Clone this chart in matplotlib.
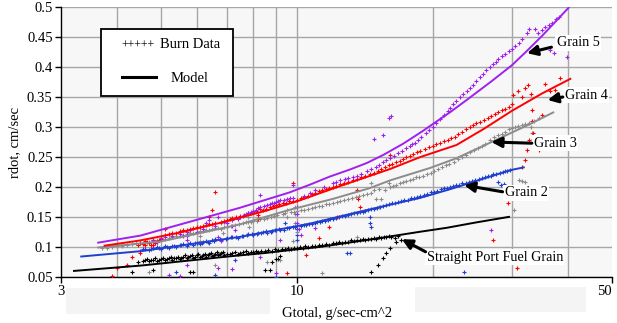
import matplotlib
matplotlib.use("Agg")
import matplotlib.pyplot as plt
from matplotlib.patches import Rectangle
from matplotlib.lines import Line2D
from matplotlib.ticker import FixedLocator, NullFormatter, FixedFormatter

plt.rcParams['font.family'] = ['Liberation Serif', 'DejaVu Serif']

# ---------------- model curves ----------------
g1_model_G = [3.19, 4.5, 5.7, 7.0, 8.5, 9.7, 11.2, 15.0, 18.8, 21.5, 25.0, 29.7]
g1_model_r = [0.060, 0.069, 0.077, 0.084, 0.090, 0.095, 0.100, 0.114, 0.1255, 0.132, 0.141, 0.1505]

g2_model_G = [3.31, 4.5, 5.6, 7.5, 10.7, 14.0, 18.8, 21.8, 25.0, 29.7, 32.0]
g2_model_r = [0.084, 0.093, 0.103, 0.117, 0.139, 0.160, 0.182, 0.196, 0.210, 0.228, 0.233]

g3_model_G = [3.61, 4.98, 6.0, 7.5, 9.64, 12.0, 14.5, 16.1, 19.8, 22.6, 27.4, 32.7, 37.2]
g3_model_r = [0.099, 0.109, 0.122, 0.138, 0.162, 0.180, 0.198, 0.211, 0.232, 0.248, 0.277, 0.304, 0.325]

g4_model_G = [3.73, 4.5, 5.5, 7.0, 8.5, 10.0, 12.3, 16.1, 18.8, 22.6, 26.0, 30.0, 35.0, 40.6]
g4_model_r = [0.102, 0.111, 0.124, 0.143, 0.160, 0.176, 0.200, 0.230, 0.250, 0.270, 0.297, 0.327, 0.356, 0.381]

g5_model_G = [3.61, 4.5, 5.6, 7.45, 9.64, 10.7, 11.8, 13.1, 14.3, 15.6, 17.2, 19.0, 22.0, 24.0, 27.0, 30.0, 32.4, 35.0, 40.2]
g5_model_r = [0.107, 0.119, 0.139, 0.165, 0.191, 0.204, 0.217, 0.229, 0.240, 0.254, 0.272, 0.293, 0.326, 0.347, 0.376, 0.403, 0.427, 0.452, 0.500]

# ---------------- burn data: scattered / hook points ----------------
g1_data_G = [4.45, 4.6, 4.7, 4.8, 4.9, 5.0, 5.1, 5.2, 5.3, 5.4, 5.5, 5.6, 5.7, 5.8, 5.9, 6.0, 6.1, 6.2, 6.3,
             6.4, 6.5, 6.6, 6.7, 6.8, 6.9, 7.0, 7.2, 7.4, 7.6, 7.8, 8.0, 8.2, 8.5, 8.8, 8.8, 9.0, 9.2, 9.1,
             9.4, 9.7, 10.0, 10.3, 10.6, 11.0, 11.4, 11.8, 12.2, 12.6, 13.0, 13.4, 13.8, 14.2, 14.6, 15.0,
             15.4, 15.8, 16.2, 16.5, 16.8, 17.0, 16.6, 16.1, 15.8, 15.5, 15.1, 14.6,
             4.3, 4.8, 5.8, 5.9, 8.5, 8.7, 9.1]
g1_data_r = [0.075, 0.078, 0.076, 0.079, 0.077, 0.080, 0.078, 0.081, 0.079, 0.082, 0.080, 0.083, 0.081, 0.085,
             0.082, 0.086, 0.083, 0.087, 0.084, 0.088, 0.085, 0.089, 0.086, 0.090, 0.087, 0.088, 0.090, 0.089,
             0.091, 0.090, 0.092, 0.091, 0.093, 0.094, 0.075, 0.080, 0.085, 0.095, 0.096, 0.097, 0.098, 0.099,
             0.100, 0.101, 0.103, 0.104, 0.106, 0.107, 0.108, 0.110, 0.111, 0.112, 0.113, 0.114, 0.115, 0.116,
             0.117, 0.115, 0.118, 0.112, 0.108, 0.098, 0.0895, 0.081, 0.070, 0.059,
             0.058, 0.062, 0.058, 0.059, 0.062, 0.062, 0.080]

g2_data_G = [4.5, 4.6, 4.7, 4.8, 4.9, 5.0, 5.1, 5.2, 5.3, 5.4, 5.4, 5.5, 5.6, 5.7, 5.8, 5.9, 6.0, 6.1, 6.2,
             6.3, 6.4, 6.5, 6.6, 6.6, 6.8, 7.0, 7.3, 7.2, 7.4, 7.6, 7.8, 8.0, 8.2, 8.4, 8.6, 8.8, 9.0, 9.0,
             9.2, 9.4, 9.5, 9.8, 10.0, 10.0, 10.0, 10.2, 10.5, 10.8, 11.1, 11.4, 11.7, 12.0, 12.4, 12.9, 13.1,
             12.8, 13.2, 13.6, 14.0, 14.4, 14.5, 14.5, 14.6, 14.8, 15.3, 15.8, 16.3, 16.8, 17.3, 17.9, 18.5,
             19.1, 19.8, 20.5, 21.2, 21.9, 22.6, 23.3, 23.5, 24.1, 24.9, 25.7, 26.5, 27.3, 27.9, 28.2, 28.4,
             28.8, 29.0, 29.7]
g2_data_r = [0.094, 0.097, 0.095, 0.098, 0.100, 0.097, 0.101, 0.099, 0.102, 0.058, 0.100, 0.103, 0.105, 0.102,
             0.106, 0.104, 0.107, 0.105, 0.108, 0.110, 0.107, 0.111, 0.053, 0.113, 0.112, 0.115, 0.078, 0.117,
             0.115, 0.119, 0.121, 0.120, 0.123, 0.125, 0.124, 0.127, 0.050, 0.129, 0.128, 0.140, 0.131, 0.133,
             0.112, 0.120, 0.130, 0.135, 0.137, 0.139, 0.141, 0.143, 0.145, 0.147, 0.150, 0.090, 0.090, 0.152,
             0.155, 0.157, 0.159, 0.162, 0.150, 0.140, 0.133, 0.164, 0.167, 0.170, 0.173, 0.175, 0.178, 0.181,
             0.184, 0.187, 0.191, 0.194, 0.198, 0.200, 0.203, 0.206, 0.059, 0.209, 0.212, 0.215, 0.218, 0.221,
             0.209, 0.224, 0.203, 0.205, 0.226, 0.228]

g3_data_G = [3.7, 3.9, 4.1, 4.3, 4.5, 4.7, 4.7, 4.9, 5.1, 5.3, 5.5, 5.7, 5.9, 6.1, 6.1, 6.1, 6.3, 6.5, 6.6,
             6.7, 6.8, 6.8, 6.85, 7.0, 7.3, 7.6, 7.8, 7.8, 7.85, 8.0, 8.3, 8.6, 8.6, 8.9, 9.2, 9.3, 9.5, 9.5,
             9.6, 9.7, 9.8, 9.9, 9.9, 9.9, 10.0, 10.0, 10.4, 10.8, 11.2, 11.4, 11.6, 12.0, 12.5, 13.0, 13.5,
             13.6, 14.0, 14.6, 14.8, 15.0, 15.2, 15.4, 15.7, 16.0, 14.6, 15.2, 16.1, 16.6, 17.2, 17.8, 18.4,
             19.0, 19.8, 20.6, 21.4, 22.3, 23.3, 24.2, 25.2, 26.2, 27.4, 28.5, 29.5, 30.5, 31.5, 32.7, 33.5,
             34.5, 30.3, 31.1, 31.5, 32.0]
g3_data_r = [0.098, 0.100, 0.102, 0.105, 0.107, 0.058, 0.109, 0.112, 0.114, 0.117, 0.119, 0.121, 0.124, 0.126,
             0.118, 0.110, 0.128, 0.130, 0.070, 0.132, 0.140, 0.130, 0.123, 0.134, 0.137, 0.140, 0.150, 0.142,
             0.134, 0.143, 0.146, 0.075, 0.149, 0.152, 0.078, 0.155, 0.162, 0.150, 0.095, 0.158, 0.110, 0.167,
             0.155, 0.140, 0.125, 0.160, 0.162, 0.165, 0.168, 0.057, 0.171, 0.174, 0.177, 0.180, 0.184, 0.117,
             0.187, 0.207, 0.195, 0.180, 0.167, 0.180, 0.195, 0.207, 0.190, 0.197, 0.200, 0.204, 0.208, 0.212,
             0.216, 0.219, 0.223, 0.230, 0.236, 0.242, 0.250, 0.258, 0.265, 0.272, 0.284, 0.288, 0.296, 0.300,
             0.304, 0.306, 0.310, 0.315, 0.162, 0.212, 0.210, 0.208]

g4_data_G = [3.9, 4.0, 4.2, 4.3, 4.5, 4.45, 4.5, 4.6, 4.6, 4.7, 4.8, 4.8, 4.9, 5.0, 5.1, 5.1, 5.3, 5.5, 5.7,
             5.9, 6.1, 6.3, 6.4, 6.5, 6.6, 6.5, 6.8, 7.0, 7.2, 7.5, 7.8, 8.0, 8.2, 8.2, 8.4, 8.7, 9.0, 9.3,
             9.5, 9.6, 9.8, 10.0, 10.4, 10.5, 10.8, 11.2, 11.2, 11.8, 11.6, 12.0, 12.3, 12.5, 13.0, 13.6,
             13.7, 13.8, 13.6, 14.2, 14.8, 15.4, 16.0, 16.1, 16.6, 17.2, 17.8, 18.5, 19.2, 20.0, 20.8, 21.6,
             22.4, 23.3, 24.2, 25.0, 26.0, 27.0, 28.0, 29.0, 30.0, 30.2, 31.0, 31.6, 32.0, 32.5, 33.0, 33.3,
             33.3, 33.4, 32.8, 32.4, 32.1, 31.6, 34.5, 35.0, 35.5, 36.5, 37.3, 38.3, 29.4, 27.3, 30.8]
g4_data_r = [0.052, 0.065, 0.070, 0.083, 0.090, 0.104, 0.107, 0.103, 0.110, 0.106, 0.112, 0.104, 0.109, 0.113,
             0.120, 0.130, 0.123, 0.126, 0.129, 0.132, 0.134, 0.137, 0.150, 0.162, 0.192, 0.139, 0.142, 0.145,
             0.149, 0.152, 0.156, 0.159, 0.154, 0.147, 0.162, 0.166, 0.170, 0.173, 0.057, 0.176, 0.207, 0.179,
             0.183, 0.087, 0.188, 0.115, 0.193, 0.134, 0.197, 0.200, 0.150, 0.205, 0.209, 0.195, 0.180, 0.167,
             0.214, 0.219, 0.224, 0.230, 0.236, 0.254, 0.241, 0.247, 0.252, 0.258, 0.263, 0.268, 0.274, 0.279,
             0.284, 0.292, 0.300, 0.306, 0.312, 0.318, 0.325, 0.330, 0.338, 0.353, 0.360, 0.350, 0.365, 0.370,
             0.355, 0.328, 0.310, 0.290, 0.278, 0.262, 0.245, 0.233, 0.262, 0.320, 0.372, 0.360, 0.362, 0.382,
             0.173, 0.112, 0.065]

g5_data_G = [4.8, 4.9, 5.0, 5.3, 5.5, 5.7, 5.7, 5.7, 5.8, 6.0, 6.2, 6.4, 6.6, 6.7, 6.7, 6.8, 7.0, 7.2, 7.2,
             7.3, 7.5, 7.7, 7.9, 8.1, 8.3, 8.3, 8.6, 8.8, 9.0, 9.2, 9.5, 9.8, 10.0, 10.0, 10.0, 10.1, 10.2,
             10.4, 10.7, 11.0, 11.5, 12.0, 12.5, 13.0, 13.6, 14.3, 15.0, 15.5, 16.1, 16.8, 17.5, 18.0, 18.6,
             19.3, 20.0, 20.8, 21.6, 22.2, 23.0, 23.8, 24.6, 25.5, 26.3, 27.2, 28.0, 29.0, 30.0, 31.1, 32.4,
             32.8, 33.7, 34.3, 34.9, 35.5, 36.2, 36.8, 37.5, 38.2, 36.5, 37.2, 39.7,
             5.2, 5.5, 5.7, 7.2, 9.0, 9.2, 9.8, 8.3, 6.7, 11.0, 26.9, 14.8, 15.5, 16.0, 16.2]
g5_data_r = [0.112, 0.109, 0.115, 0.118, 0.121, 0.112, 0.118, 0.125, 0.128, 0.125, 0.130, 0.145, 0.135, 0.150,
             0.117, 0.110, 0.140, 0.145, 0.135, 0.128, 0.150, 0.155, 0.158, 0.162, 0.167, 0.187, 0.170, 0.173,
             0.175, 0.178, 0.180, 0.182, 0.167, 0.155, 0.140, 0.130, 0.120, 0.185, 0.190, 0.195, 0.200, 0.207,
             0.211, 0.215, 0.218, 0.226, 0.234, 0.241, 0.248, 0.256, 0.265, 0.271, 0.278, 0.290, 0.300, 0.313,
             0.326, 0.338, 0.350, 0.360, 0.370, 0.383, 0.395, 0.405, 0.413, 0.422, 0.430, 0.440, 0.456, 0.464,
             0.464, 0.457, 0.462, 0.467, 0.470, 0.473, 0.480, 0.484, 0.428, 0.423, 0.417,
             0.053, 0.052, 0.070, 0.063, 0.056, 0.112, 0.203, 0.084, 0.065, 0.132, 0.129, 0.280, 0.287, 0.315,
             0.318]

# ---------------- burn data: dense band readings ----------------
g1_band_G = [4.55, 4.65, 4.75, 4.85, 4.95, 5.05, 5.15, 5.25, 5.35, 5.45, 5.55, 5.65, 5.75, 5.85, 5.95, 6.05,
             6.15, 6.25, 6.35, 6.45, 6.55, 6.65, 6.75, 6.85, 7.1, 7.3, 7.5, 7.7, 7.9, 8.1, 8.35, 8.65, 8.95,
             9.25, 9.55, 9.85, 10.15, 10.45, 10.8, 11.2, 11.6, 12.0, 12.4, 12.8, 13.2, 13.6, 14.0, 14.4, 14.8,
             15.2, 15.6, 16.0]
g1_band_r = [0.077, 0.080, 0.078, 0.081, 0.079, 0.082, 0.080, 0.083, 0.081, 0.084, 0.082, 0.086, 0.083, 0.087,
             0.084, 0.088, 0.085, 0.089, 0.086, 0.090, 0.087, 0.091, 0.088, 0.092, 0.089, 0.092, 0.090, 0.093,
             0.092, 0.094, 0.093, 0.095, 0.096, 0.097, 0.098, 0.099, 0.100, 0.101, 0.102, 0.103, 0.105, 0.106,
             0.108, 0.109, 0.111, 0.112, 0.113, 0.114, 0.115, 0.116, 0.117, 0.118]

g2_band_G = [4.55, 4.75, 4.95, 5.15, 5.35, 5.55, 5.75, 5.95, 6.15, 6.35, 6.55, 6.75, 6.95, 7.15, 7.35, 7.55,
             7.75, 7.95, 8.15, 8.35, 8.55, 8.75, 8.95, 9.15, 9.35, 9.6, 9.9, 10.35, 10.65, 10.95, 11.25, 11.55,
             11.85, 12.2, 12.6, 13.0, 13.4, 13.8, 14.2, 14.6, 15.05, 15.55, 16.05, 16.55, 17.05, 17.6, 18.2,
             18.8, 19.45, 20.15, 20.85, 21.55, 22.25, 22.95, 23.7, 24.5, 25.3, 26.1, 26.9, 27.7, 28.6, 29.3]
g2_band_r = [0.096, 0.097, 0.099, 0.100, 0.101, 0.104, 0.105, 0.106, 0.107, 0.109, 0.110, 0.114, 0.113, 0.116,
             0.117, 0.118, 0.120, 0.122, 0.121, 0.124, 0.126, 0.125, 0.128, 0.130, 0.129, 0.132, 0.134, 0.136,
             0.138, 0.140, 0.142, 0.144, 0.146, 0.148, 0.151, 0.153, 0.156, 0.158, 0.160, 0.163, 0.165, 0.168,
             0.171, 0.174, 0.176, 0.179, 0.182, 0.185, 0.189, 0.192, 0.196, 0.199, 0.201, 0.204, 0.207, 0.210,
             0.213, 0.216, 0.219, 0.222, 0.225, 0.227]

g3_band_G = [3.8, 4.0, 4.2, 4.4, 4.6, 4.8, 5.0, 5.2, 5.4, 5.6, 5.8, 6.0, 6.2, 6.4, 6.6, 6.9, 7.15, 7.45, 7.7,
             7.9, 8.15, 8.45, 8.75, 9.05, 9.4, 9.85, 10.2, 10.6, 11.0, 11.4, 11.8, 12.25, 12.75, 13.25, 13.75,
             14.3, 16.35, 16.9, 17.5, 18.1, 18.7, 19.4, 20.2, 21.0, 21.8, 22.8, 23.7, 24.7, 25.7, 26.8, 27.9,
             29.0, 30.0, 31.0, 32.1, 33.0, 33.2, 33.4]
g3_band_r = [0.099, 0.101, 0.104, 0.106, 0.108, 0.110, 0.113, 0.115, 0.118, 0.120, 0.123, 0.125, 0.127, 0.129,
             0.131, 0.133, 0.135, 0.138, 0.141, 0.142, 0.144, 0.147, 0.150, 0.153, 0.156, 0.159, 0.161, 0.164,
             0.167, 0.169, 0.172, 0.175, 0.178, 0.182, 0.185, 0.189, 0.202, 0.206, 0.210, 0.214, 0.217, 0.221,
             0.226, 0.233, 0.239, 0.246, 0.254, 0.262, 0.268, 0.278, 0.286, 0.292, 0.298, 0.302, 0.305, 0.300,
             0.290, 0.280]

g4_band_G = [4.55, 4.65, 4.75, 4.85, 4.95, 5.2, 5.4, 5.6, 5.8, 6.0, 6.2, 6.4, 6.6, 6.9, 7.1, 7.35, 7.65, 7.9,
             8.1, 8.3, 8.55, 8.85, 9.15, 9.45, 9.8, 10.2, 10.6, 11.0, 11.4, 11.8, 12.2, 12.7, 13.3, 13.9, 14.5,
             15.1, 15.7, 16.3, 16.9, 17.5, 18.1, 18.8, 19.6, 20.4, 21.2, 22.0, 22.8, 23.7, 24.6, 25.5, 26.5,
             27.5, 28.5, 29.5]
g4_band_r = [0.105, 0.108, 0.103, 0.107, 0.111, 0.122, 0.124, 0.128, 0.130, 0.133, 0.135, 0.138, 0.140, 0.144,
             0.147, 0.150, 0.154, 0.157, 0.160, 0.163, 0.164, 0.168, 0.171, 0.174, 0.177, 0.181, 0.185, 0.190,
             0.195, 0.198, 0.202, 0.207, 0.212, 0.216, 0.221, 0.227, 0.233, 0.238, 0.244, 0.250, 0.255, 0.260,
             0.266, 0.271, 0.277, 0.282, 0.288, 0.296, 0.303, 0.309, 0.315, 0.322, 0.328, 0.334]

g5_band_G = [12.2, 12.8, 13.3, 13.9, 14.6, 15.2, 15.8, 16.4, 17.1, 17.8, 18.3, 18.9, 19.6, 20.4, 21.2, 21.9,
             22.6, 23.4, 24.2, 25.0, 25.9, 26.8, 27.6, 28.5, 29.5, 30.5, 31.6, 7.6, 7.8, 8.0, 8.2, 8.45, 8.7,
             8.9, 9.1, 9.35, 9.65, 5.1, 5.6, 6.3, 6.9, 7.4]
g5_band_r = [0.209, 0.213, 0.216, 0.222, 0.230, 0.237, 0.245, 0.252, 0.260, 0.268, 0.274, 0.284, 0.295, 0.306,
             0.320, 0.332, 0.344, 0.355, 0.365, 0.376, 0.389, 0.400, 0.409, 0.418, 0.426, 0.435, 0.447, 0.152,
             0.156, 0.160, 0.165, 0.168, 0.171, 0.174, 0.176, 0.179, 0.181, 0.116, 0.119, 0.140, 0.142, 0.146]

grain_labels = ["Straight Port Fuel Grain", "Grain 2", "Grain 3", "Grain 4", "Grain 5"]
colors = ["#000000", "#1f3fd0", "#8c8c8c", "#ff0000", "#a020f0"]

x_major = [3, 10, 50]
x_minor = [4, 5, 6, 7, 8, 9, 10, 20, 30, 40]
y_ticks = [0.05, 0.1, 0.15, 0.2, 0.25, 0.3, 0.35, 0.4, 0.45, 0.5]

# ---------------- figure ----------------
fig = plt.figure(figsize=(6.17, 3.23), dpi=100)
ax = fig.add_axes([61 / 617, 1 - 277 / 323, 551 / 617, 270 / 323])
ax.set_facecolor("#f7f7f7")

ax.set_xscale("log")
ax.set_xlim(3, 50)
ax.set_ylim(0.05, 0.5)

series = [
    (g1_data_G, g1_data_r, g1_band_G, g1_band_r, g1_model_G, g1_model_r),
    (g2_data_G, g2_data_r, g2_band_G, g2_band_r, g2_model_G, g2_model_r),
    (g3_data_G, g3_data_r, g3_band_G, g3_band_r, g3_model_G, g3_model_r),
    (g4_data_G, g4_data_r, g4_band_G, g4_band_r, g4_model_G, g4_model_r),
    (g5_data_G, g5_data_r, g5_band_G, g5_band_r, g5_model_G, g5_model_r),
]
for (dG, dr, bG, br, mG, mr), c in zip(series, colors):
    ax.plot(dG, dr, linestyle="none", marker="+", markersize=3.4, markeredgewidth=0.8,
            color=c, zorder=3)
    ax.plot(bG, br, linestyle="none", marker="+", markersize=3.4, markeredgewidth=0.8,
            color=c, zorder=3)
    ax.plot(mG, mr, color=c, linewidth=1.4, zorder=4, solid_capstyle="butt")

# ticks / grid
ax.xaxis.remove_overlapping_locs = False
ax.xaxis.set_major_locator(FixedLocator(x_major))
ax.xaxis.set_major_formatter(FixedFormatter([str(v) for v in x_major]))
ax.xaxis.set_minor_locator(FixedLocator(x_minor))
ax.xaxis.set_minor_formatter(NullFormatter())
ax.set_yticks(y_ticks)
ax.set_yticklabels(["%g" % v for v in y_ticks])
ax.tick_params(axis="both", which="major", direction="out", length=4, width=1,
               labelsize=10.5, colors="black", pad=2)
ax.tick_params(axis="x", which="minor", length=0)
ax.grid(False)
ax.xaxis.grid(True, which="minor", color="#a6a6a6", linewidth=1.0)
ax.yaxis.grid(True, which="major", color="#a6a6a6", linewidth=1.0)
ax.set_axisbelow(True)
for s in ["top", "right"]:
    ax.spines[s].set_visible(False)
for s in ["left", "bottom"]:
    ax.spines[s].set_linewidth(1.0)
    ax.spines[s].set_color("black")

# keep the "50" label inside the canvas
xlabels = ax.get_xticklabels()
xlabels[-1].set_horizontalalignment("right")
xlabels[-1].set_x(50)

ax.set_xlabel("Gtotal, g/sec-cm^2", fontsize=10.5, labelpad=6)
ax.set_ylabel("rdot, cm/sec", fontsize=10.5, labelpad=4)

# annotations (label, text position, arrow tail, arrow tip)
annots = [
    ("Grain 5", (37.7, 0.440), (36.7, 0.433), (32.4, 0.423)),
    ("Grain 4", (39.3, 0.353), (38.9, 0.350), (36.0, 0.345)),
    ("Grain 3", (33.5, 0.273), (33.2, 0.273), (27.0, 0.275)),
    ("Grain 2", (28.9, 0.190), (28.6, 0.192), (23.5, 0.203)),
    ("Straight Port Fuel Grain", (19.4, 0.083), (19.3, 0.092), (17.1, 0.113)),
]
for lab, tpos, tail, tip in annots:
    ax.text(tpos[0], tpos[1], lab, fontsize=10.2, ha="left", va="center", zorder=6,
            bbox=dict(facecolor="white", edgecolor="none", pad=1.0))
    ax.annotate("", xy=tip, xytext=tail, zorder=7,
                arrowprops=dict(arrowstyle="-|>,head_length=0.6,head_width=0.3",
                                color="black", lw=2.2, shrinkA=0, shrinkB=0))

# legend box
fig.patches.append(Rectangle((101 / 617, 1 - 96 / 323), 132 / 617, 67 / 323,
                             transform=fig.transFigure, facecolor="white",
                             edgecolor="black", linewidth=1.3, zorder=10))
fig.text(121 / 617, 1 - 46 / 323, "+++++", fontsize=8.5, ha="left", va="center", zorder=11)
fig.text(160 / 617, 1 - 45 / 323, "Burn Data", fontsize=10.5, ha="left", va="center", zorder=11)
fig.lines.append(Line2D([122 / 617, 156 / 617], [1 - 77 / 323, 1 - 77 / 323],
                        transform=fig.transFigure, color="black", linewidth=2.2, zorder=11))
fig.text(171 / 617, 1 - 79 / 323, "Model", fontsize=10.5, ha="left", va="center", zorder=11)

# light boxes below the axis
fig.patches.append(Rectangle((66 / 617, 1 - 314 / 323), 204 / 617, 26 / 323,
                             transform=fig.transFigure, facecolor="#f4f4f4",
                             edgecolor="none", zorder=1))
fig.patches.append(Rectangle((415 / 617, 1 - 312 / 323), 171 / 617, 25 / 323,
                             transform=fig.transFigure, facecolor="#f4f4f4",
                             edgecolor="none", zorder=1))

fig.savefig("out.png", dpi=100)
